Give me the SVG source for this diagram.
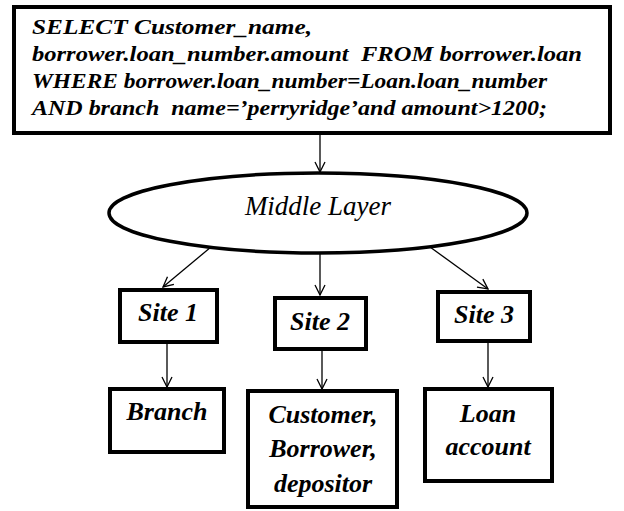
<svg xmlns="http://www.w3.org/2000/svg" width="624" height="511" viewBox="0 0 624 511">
  <style>
    .box { fill: #fff; stroke: #000; stroke-width: 4; }
    .oval { fill: #fff; stroke: #000; stroke-width: 3.5; }
    text { font-family: 'Liberation Serif', 'Times New Roman', serif; font-style: italic; fill: #000; }
    .sql { font-weight: bold; font-size: 22px; white-space: pre; }
    .lbl { font-weight: bold; font-size: 26px; text-anchor: middle; }
    .mid { font-size: 27px; text-anchor: middle; }
    .edge { fill: none; stroke: #000; stroke-width: 1.3; marker-end: url(#arrow); }
  </style>
  <defs>
    <marker id="arrow" viewBox="0 0 12 12" refX="11" refY="6" markerWidth="12" markerHeight="12" markerUnits="userSpaceOnUse" orient="auto">
      <polyline points="1,1 11,6 1,11" fill="none" stroke="#000" stroke-width="1.3"/>
    </marker>
  </defs>

  <!-- query box -->
  <g id="query">
    <rect class="box" x="14" y="7" width="596" height="126"/>
    <text class="sql" x="32" y="34" xml:space="preserve" textLength="280" lengthAdjust="spacingAndGlyphs">SELECT Customer_name,</text>
    <text class="sql" x="32" y="61" xml:space="preserve" textLength="550" lengthAdjust="spacingAndGlyphs">borrower.loan_number.amount  FROM borrower.loan</text>
    <text class="sql" x="32" y="88" xml:space="preserve" textLength="515" lengthAdjust="spacingAndGlyphs">WHERE borrower.loan_number=Loan.loan_number</text>
    <text class="sql" x="32" y="115" xml:space="preserve" textLength="515" lengthAdjust="spacingAndGlyphs">AND branch  name=’perryridge’and amount&gt;1200;</text>
  </g>

  <!-- middle layer -->
  <g id="middle-layer">
    <ellipse class="oval" cx="318" cy="213" rx="209" ry="40"/>
    <text class="mid" x="318" y="215">Middle Layer</text>
  </g>

  <!-- sites -->
  <g id="site1">
    <rect class="box" x="120" y="290" width="97" height="52"/>
    <text class="lbl" x="168" y="321">Site 1</text>
  </g>
  <g id="site2">
    <rect class="box" x="275" y="298" width="91" height="51"/>
    <text class="lbl" x="320" y="330">Site 2</text>
  </g>
  <g id="site3">
    <rect class="box" x="438" y="292" width="92" height="49"/>
    <text class="lbl" x="484" y="323">Site 3</text>
  </g>

  <!-- tables held at each site -->
  <g id="branch">
    <rect class="box" x="110" y="389" width="114" height="63"/>
    <text class="lbl" x="167" y="420">Branch</text>
  </g>
  <g id="customer">
    <rect class="box" x="248" y="391" width="149" height="116"/>
    <text class="lbl" x="323" y="423">Customer,</text>
    <text class="lbl" x="323" y="457">Borrower,</text>
    <text class="lbl" x="323" y="492">depositor</text>
  </g>
  <g id="loan">
    <rect class="box" x="425" y="389" width="127" height="92"/>
    <text class="lbl" x="488" y="422">Loan</text>
    <text class="lbl" x="488" y="455">account</text>
  </g>

  <!-- connectors -->
  <g id="connectors">
    <line class="edge" x1="320" y1="135" x2="320" y2="172"/>
    <line class="edge" x1="211" y1="247" x2="163" y2="287"/>
    <line class="edge" x1="320" y1="253" x2="320" y2="295"/>
    <line class="edge" x1="430" y1="247" x2="488" y2="289"/>
    <line class="edge" x1="167" y1="344" x2="167" y2="387"/>
    <line class="edge" x1="322" y1="351" x2="322" y2="389"/>
    <line class="edge" x1="488" y1="343" x2="488" y2="387"/>
  </g>
</svg>
